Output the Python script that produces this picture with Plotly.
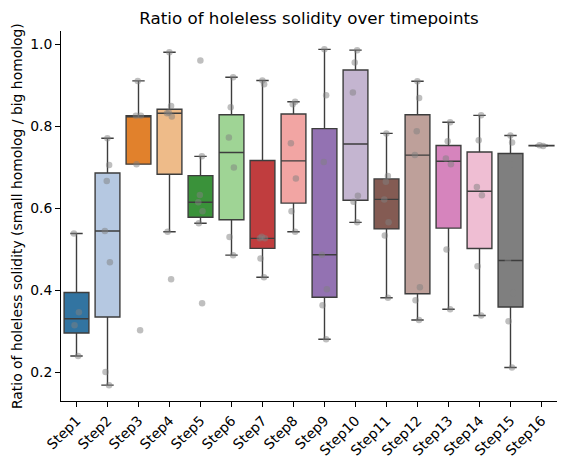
import colorsys
import numpy as np
import plotly.graph_objects as go

steps = [f"Step{i}" for i in range(1, 17)]

step_values = [
    [0.239, 0.314, 0.346, 0.538],
    [0.168, 0.200, 0.468, 0.544, 0.666, 0.705, 0.770],
    [0.302, 0.707, 0.825, 0.825, 0.910],
    [0.426, 0.542, 0.823, 0.831, 0.833, 0.849, 0.980],
    [0.368, 0.563, 0.592, 0.614, 0.632, 0.726, 0.960],
    [0.485, 0.529, 0.699, 0.772, 0.846, 0.919],
    [0.431, 0.477, 0.526, 0.526, 0.530, 0.902, 0.911],
    [0.542, 0.592, 0.672, 0.758, 0.853, 0.859],
    [0.280, 0.363, 0.402, 0.486, 0.712, 0.875, 0.987],
    [0.565, 0.615, 0.630, 0.882, 0.955, 0.985],
    [0.381, 0.533, 0.565, 0.621, 0.664, 0.678, 0.782],
    [0.327, 0.375, 0.407, 0.729, 0.787, 0.868, 0.909],
    [0.353, 0.499, 0.707, 0.721, 0.763, 0.809],
    [0.338, 0.458, 0.631, 0.651, 0.765, 0.826],
    [0.211, 0.324, 0.393, 0.472, 0.706, 0.760, 0.777],
    [0.751, 0.753],
]

tab20 = ["#1f77b4", "#aec7e8", "#ff7f0e", "#ffbb78", "#2ca02c", "#98df8a",
         "#d62728", "#ff9896", "#9467bd", "#c5b0d5", "#8c564b", "#c49c94",
         "#e377c2", "#f7b6d2", "#7f7f7f", "#c7c7c7"]

y_ticks = [0.2, 0.4, 0.6, 0.8, 1.0]


def desat(hx, prop=0.75):
    r, g, b = (int(hx[i:i + 2], 16) / 255 for i in (1, 3, 5))
    h, l, s = colorsys.rgb_to_hls(r, g, b)
    r, g, b = colorsys.hls_to_rgb(h, l, s * prop)
    return "#%02x%02x%02x" % (round(r * 255), round(g * 255), round(b * 255))


def box_stats(vals):
    a = np.asarray(vals, dtype=float)
    q1, med, q3 = np.percentile(a, [25, 50, 75])
    iqr = q3 - q1
    lo = a[a >= q1 - 1.5 * iqr].min()
    hi = a[a <= q3 + 1.5 * iqr].max()
    return q1, med, q3, min(lo, q1), max(hi, q3)


fig = go.Figure()
for i, (name, vals) in enumerate(zip(steps, step_values)):
    q1, med, q3, lo, hi = box_stats(vals)
    fig.add_trace(go.Box(
        x=[i], q1=[q1], median=[med], q3=[q3],
        lowerfence=[lo], upperfence=[hi], name=name,
        width=0.8, whiskerwidth=0.5,
        fillcolor=desat(tab20[i]),
        line=dict(color="#3d3d3d", width=1.4),
        boxpoints=False, showlegend=False,
    ))
for i, (name, vals) in enumerate(zip(steps, step_values)):
    fig.add_trace(go.Box(
        x=[i] * len(vals), y=vals, name=name,
        width=0.8,
        fillcolor="rgba(0,0,0,0)",
        line=dict(color="rgba(0,0,0,0)", width=0),
        boxpoints="all", jitter=0.25, pointpos=0,
        marker=dict(color="rgba(128,128,128,0.5)", size=6.5, line=dict(width=0)),
        showlegend=False,
    ))

fig.update_layout(
    width=567, height=466,
    margin=dict(l=61, r=10, t=31, b=65),
    plot_bgcolor="white", paper_bgcolor="white",
    boxmode="overlay",
    font=dict(family="DejaVu Sans", size=13.9, color="black"),
    title=dict(text="Ratio of holeless solidity over timepoints",
               x=(61 + 496 / 2) / 567, xanchor="center",
               y=1 - 18 / 466, yanchor="middle", yref="container",
               font=dict(size=16.7, color="black")),
)
fig.update_xaxes(
    range=[-0.5, 15.5], tickvals=list(range(16)), ticktext=steps,
    tickangle=-45, ticks="outside", ticklen=5, tickwidth=1, tickcolor="black",
    showline=True, linecolor="black", linewidth=1, showgrid=False,
    zeroline=False, automargin=False, tickfont=dict(size=13.9),
)
fig.update_yaxes(
    range=[0.1293, 1.0317], tickvals=y_ticks, tickformat=".1f",
    ticks="outside", ticklen=5, tickwidth=1, tickcolor="black",
    showline=True, linecolor="black", linewidth=1, showgrid=False,
    zeroline=False, automargin=False, tickfont=dict(size=13.9),
)
fig.add_annotation(
    text="Ratio of holeless solidity (small homolog / big homolog)",
    textangle=-90, xref="paper", yref="paper",
    x=(17 - 61) / 496, y=0.5, xanchor="center", yanchor="middle",
    showarrow=False, font=dict(size=13.9, color="black"),
)

fig.write_html("out.html")
